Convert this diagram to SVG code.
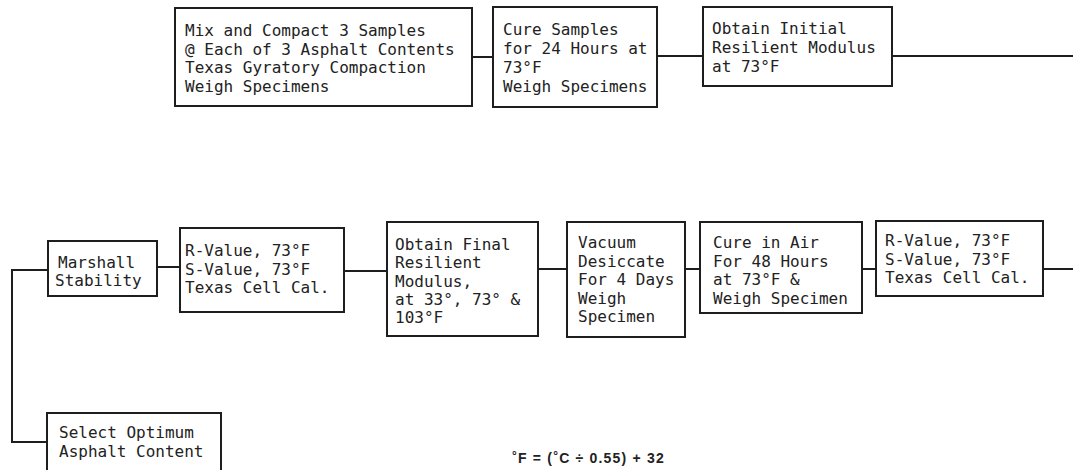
<svg xmlns="http://www.w3.org/2000/svg" width="1073" height="470" viewBox="0 0 1073 470">
<style>
.b{fill:#fff;stroke:#1e1e1e;stroke-width:2}
.c{fill:none;stroke:#1e1e1e;stroke-width:2}
.t{font-family:"DejaVu Sans Mono","Liberation Mono",monospace;font-size:16px;fill:#222}
.f{font-family:"Liberation Sans",Arial,sans-serif;font-weight:bold;font-size:14px;letter-spacing:1.2px;fill:#222}
</style>
<rect width="1073" height="470" fill="#fff"/>
<g id="connectors">
<path class="c" d="M472 57H493M657 56H703M892 56H1073"/>
<path class="c" d="M48 270H12V442H47"/>
<path class="c" d="M157 267H180M344 271H387M538 269H567M685 269H700M862 269H876M1043 269H1073"/>
</g>
<g id="n1"><rect class="b" x="175" y="8" width="297" height="98"/>
<text class="t" x="185" y="36">Mix and Compact 3 Samples</text>
<text class="t" x="185" y="54.5">@ Each of 3 Asphalt Contents</text>
<text class="t" x="185" y="73">Texas Gyratory Compaction</text>
<text class="t" x="185" y="91.5">Weigh Specimens</text></g>
<g id="n2"><rect class="b" x="493" y="7" width="164" height="100"/>
<text class="t" x="503" y="35">Cure Samples</text>
<text class="t" x="503" y="54">for 24 Hours at</text>
<text class="t" x="503" y="73">73°F</text>
<text class="t" x="503" y="92">Weigh Specimens</text></g>
<g id="n3"><rect class="b" x="703" y="7" width="189" height="79"/>
<text class="t" x="712" y="34">Obtain Initial</text>
<text class="t" x="712" y="53">Resilient Modulus</text>
<text class="t" x="712" y="72">at 73°F</text></g>
<g id="n4"><rect class="b" x="48" y="241" width="109" height="55"/>
<text class="t" x="58" y="268">Marshall</text>
<text class="t" x="55" y="286">Stability</text></g>
<g id="n5"><rect class="b" x="180" y="228" width="164" height="84"/>
<text class="t" x="185" y="256">R-Value, 73°F</text>
<text class="t" x="185" y="274.5">S-Value, 73°F</text>
<text class="t" x="185" y="293">Texas Cell Cal.</text></g>
<g id="n6"><rect class="b" x="387" y="222" width="151" height="114"/>
<text class="t" x="395" y="250">Obtain Final</text>
<text class="t" x="395" y="268.3">Resilient</text>
<text class="t" x="395" y="286.6">Modulus,</text>
<text class="t" x="395" y="305">at 33°, 73° &amp;</text>
<text class="t" x="395" y="323.3">103°F</text></g>
<g id="n7"><rect class="b" x="567" y="222" width="118" height="115"/>
<text class="t" x="578" y="248">Vacuum</text>
<text class="t" x="578" y="266.5">Desiccate</text>
<text class="t" x="578" y="285">For 4 Days</text>
<text class="t" x="578" y="303.5">Weigh</text>
<text class="t" x="578" y="322">Specimen</text></g>
<g id="n8"><rect class="b" x="700" y="222" width="162" height="91"/>
<text class="t" x="713" y="248">Cure in Air</text>
<text class="t" x="713" y="266.5">For 48 Hours</text>
<text class="t" x="713" y="285">at 73°F &amp;</text>
<text class="t" x="713" y="303.5">Weigh Specimen</text></g>
<g id="n9"><rect class="b" x="876" y="221" width="167" height="75"/>
<text class="t" x="885" y="246">R-Value, 73°F</text>
<text class="t" x="885" y="264.5">S-Value, 73°F</text>
<text class="t" x="885" y="283">Texas Cell Cal.</text></g>
<g id="n10"><rect class="b" x="47" y="413" width="174" height="70"/>
<text class="t" x="59" y="438">Select Optimum</text>
<text class="t" x="59" y="457">Asphalt Content</text></g>
<text class="f" x="512" y="463"><tspan font-size="12" dy="-3">°</tspan><tspan dy="3">F = (</tspan><tspan font-size="12" dy="-3">°</tspan><tspan dy="3">C ÷ 0.55) + 32</tspan></text>
</svg>
